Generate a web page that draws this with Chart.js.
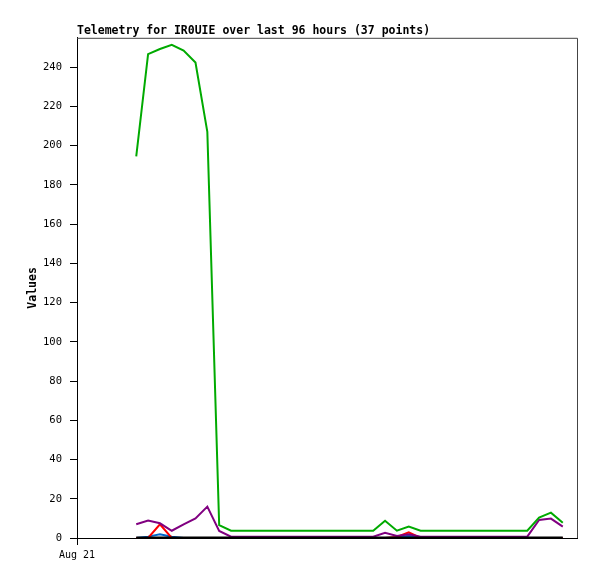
<!DOCTYPE html>
<html>
<head>
<meta charset="utf-8">
<script src="https://cdn.jsdelivr.net/npm/chart.js@4"></script>
<style>
  html, body { margin: 0; padding: 0; background: #fff; }
  #wrap { width: 597px; height: 579px; }
</style>
</head>
<body>
<div id="wrap"><canvas id="telemetryChart" width="597" height="579"></canvas></div>
<script>
// 37 samples, one per point index
const pointIndex = Array.from({ length: 37 }, (_, i) => i);

const greenValues = [194.5, 246.7, 249.3, 251.4, 248.5, 242.4, 207, 6.6, 3.7, 3.7,
    3.7, 3.7, 3.7, 3.7, 3.7, 3.7, 3.7, 3.7, 3.7, 3.7,
    3.7, 8.8, 3.7, 5.8, 3.7, 3.7, 3.7, 3.7, 3.7, 3.7,
    3.7, 3.7, 3.7, 3.7, 10.4, 12.9, 7.8];
const purpleValues = [7.0, 8.9, 7.5, 3.7, 7.0, 10, 16, 3.6, 0.7, 0.7,
    0.7, 0.7, 0.7, 0.7, 0.7, 0.7, 0.7, 0.7, 0.7, 0.7,
    0.7, 2.7, 1.0, 1.9, 0.7, 0.7, 0.7, 0.7, 0.7, 0.7,
    0.7, 0.7, 0.7, 0.7, 9.2, 9.9, 5.8];
const redValues = [0, 0, 7.0, 0, 0, 0, 0, 0, 0, 0,
    0, 0, 0, 0, 0, 0, 0, 0, 0, 0,
    0, 0, 0.5, 2.9, 0, 0, 0, 0, 0, 0,
    0, 0, 0, 0, 0, 0, 0];
const blueValues = [0, 0.7, 1.9, 0.6, 0, 0, 0, 0, 0, 0,
    0, 0, 0, 0, 0, 0, 0, 0, 0, 0,
    0, 0, 0.3, 1.2, 0, 0, 0, 0, 0, 0,
    0, 0, 0, 0, 0, 0, 0];
const blackValues = new Array(37).fill(0);

const xTickLabels = ['Aug 21'];
const yTickStep = 20;

function toPoints(values) {
    return values.map((v, i) => ({ x: pointIndex[i], y: v }));
}

// top and right frame lines
const framePlugin = {
    id: 'frame',
    afterDraw(chart) {
        const { ctx, chartArea } = chart;
        ctx.save();
        ctx.strokeStyle = '#444';
        ctx.lineWidth = 1;
        ctx.beginPath();
        ctx.moveTo(chartArea.left, chartArea.top + 0.5);
        ctx.lineTo(chartArea.right + 0.5, chartArea.top + 0.5);
        ctx.lineTo(chartArea.right + 0.5, chartArea.bottom);
        ctx.stroke();
        ctx.restore();
    }
};

const mono = 'DejaVu Sans Mono, Liberation Mono, monospace';

const ctx = document.getElementById('telemetryChart').getContext('2d');
const chart = new Chart(ctx, {
    type: 'line',
    data: {
        datasets: [
            { data: toPoints(blackValues), borderColor: '#000000', borderWidth: 3 },
            { data: toPoints(greenValues), borderColor: '#00aa00', borderWidth: 2 },
            { data: toPoints(purpleValues), borderColor: '#800080', borderWidth: 2 },
            { data: toPoints(redValues), borderColor: '#ff0000', borderWidth: 2 },
            { data: toPoints(blueValues), borderColor: '#0066cc', borderWidth: 2 }
        ]
    },
    options: {
        responsive: false,
        animation: false,
        devicePixelRatio: 1,
        layout: { padding: { left: 0, right: 20, top: 0, bottom: 0 } },
        elements: {
            point: { radius: 0 },
            line: { tension: 0, fill: false }
        },
        plugins: {
            legend: { display: false },
            tooltip: { enabled: false },
            title: {
                display: true,
                text: 'Telemetry for IR0UIE over last 96 hours (37 points)',
                align: 'start',
                fullSize: false,
                color: '#000',
                font: { family: mono, size: 11.5, weight: 'bold', lineHeight: 1.2 },
                padding: { top: 24, bottom: 0 }
            }
        },
        scales: {
            x: {
                type: 'linear',
                min: -5,
                max: 37.2,
                border: { color: '#000', width: 1 },
                grid: { drawOnChartArea: false, tickLength: 7, color: '#000' },
                afterBuildTicks(scale) {
                    scale.ticks = [{ value: -5 }];
                },
                ticks: {
                    autoSkip: false,
                    maxRotation: 0,
                    padding: 4,
                    color: '#000',
                    font: { family: mono, size: 10 },
                    callback: () => xTickLabels[0]
                },
                afterFit(scale) { scale.height = 41; }
            },
            y: {
                min: 0,
                max: 255,
                border: { color: '#000', width: 1 },
                grid: { drawOnChartArea: false, tickLength: 7, color: '#000' },
                afterBuildTicks(scale) {
                    scale.ticks = scale.ticks.filter(t => t.value % yTickStep === 0);
                },
                ticks: {
                    stepSize: yTickStep,
                    padding: 8,
                    color: '#000',
                    font: { family: mono, size: 10.5 }
                },
                title: {
                    display: true,
                    text: 'Values',
                    color: '#000',
                    font: { family: mono, size: 11.5, weight: 'bold' },
                    padding: { top: 26, bottom: 0 }
                },
                afterFit(scale) { scale.width = 77; }
            }
        }
    },
    plugins: [framePlugin]
});
</script>
</body>
</html>
